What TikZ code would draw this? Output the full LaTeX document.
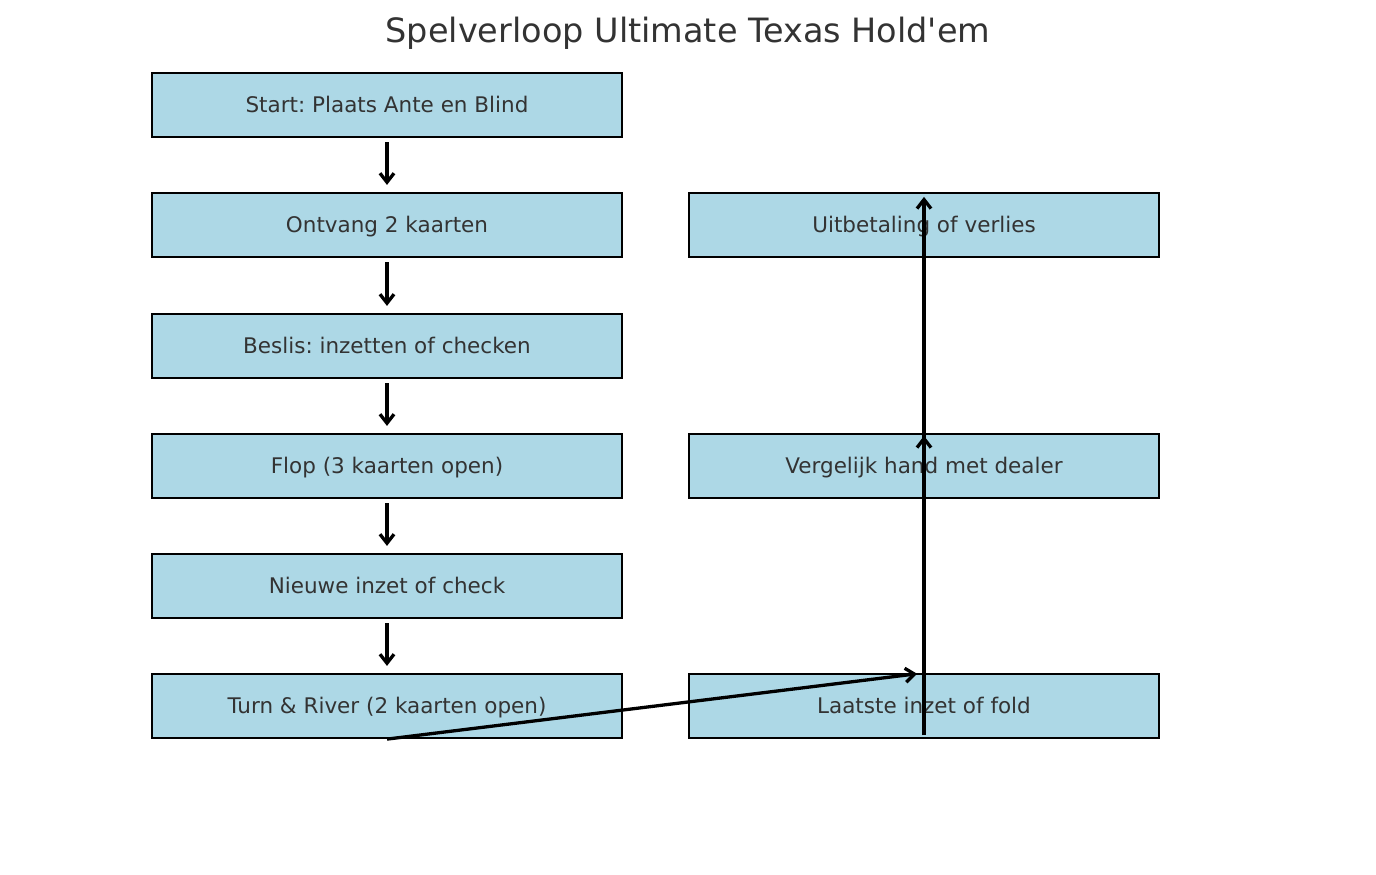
\documentclass[tikz,border=0pt]{standalone}
\usepackage{fontspec}
\setmainfont{DejaVu Sans}
\usetikzlibrary{arrows.meta}
\definecolor{boxfill}{HTML}{ADD8E6}
\definecolor{txt}{HTML}{333333}
\frenchspacing
\begin{document}
\begin{tikzpicture}[x=1pt,y=-1pt,
  stepbox/.style={draw=black,line width=2.2pt,fill=boxfill,minimum width=470pt,minimum height=64pt,inner sep=0pt,text height=15.7pt,text depth=0pt,text=txt,font=\fontsize{21.5}{25}\selectfont},
  flow/.style={line width=3.3pt,-{Straight Barb[length=9pt,width=14pt,line width=3.3pt]}}]
\useasboundingbox (0,0) rectangle (1376,875);
\node[text=txt,inner sep=0pt,text height=24.4pt,text depth=0pt,font=\fontsize{33.5}{40}\selectfont] (title) at (688,30) {Spelverloop Ultimate Texas Hold\textquotesingle em};
\node[stepbox] (s1) at (387,105) {Start: Plaats Ante en Blind};
\node[stepbox] (s2) at (387,225) {Ontvang 2 kaarten};
\node[stepbox] (s3) at (387,346) {Beslis: inzetten of checken};
\node[stepbox] (s4) at (387,466) {Flop (3 kaarten open)};
\node[stepbox] (s5) at (387,586) {Nieuwe inzet of check};
\node[stepbox] (s6) at (387,706) {Turn \& River (2 kaarten open)};
\node[stepbox] (r1) at (924,225) {Uitbetaling of verlies};
\node[stepbox] (r2) at (924,466) {Vergelijk hand met dealer};
\node[stepbox] (r3) at (924,706) {Laatste inzet of fold};
\foreach \a/\b in {s1/s2,s2/s3,s3/s4,s4/s5,s5/s6}
  \draw[flow,shorten <=4pt,shorten >=7pt] (\a.south) -- (\b.north);
\draw[flow,shorten >=7pt] (s6.south) -- (r3.north);
\draw[flow] ([yshift=4pt]r3.south) -- ([yshift=-3pt]r2.north);
\draw[flow] (r2.south) -- ([yshift=-5pt]r1.north);
\end{tikzpicture}
\end{document}
